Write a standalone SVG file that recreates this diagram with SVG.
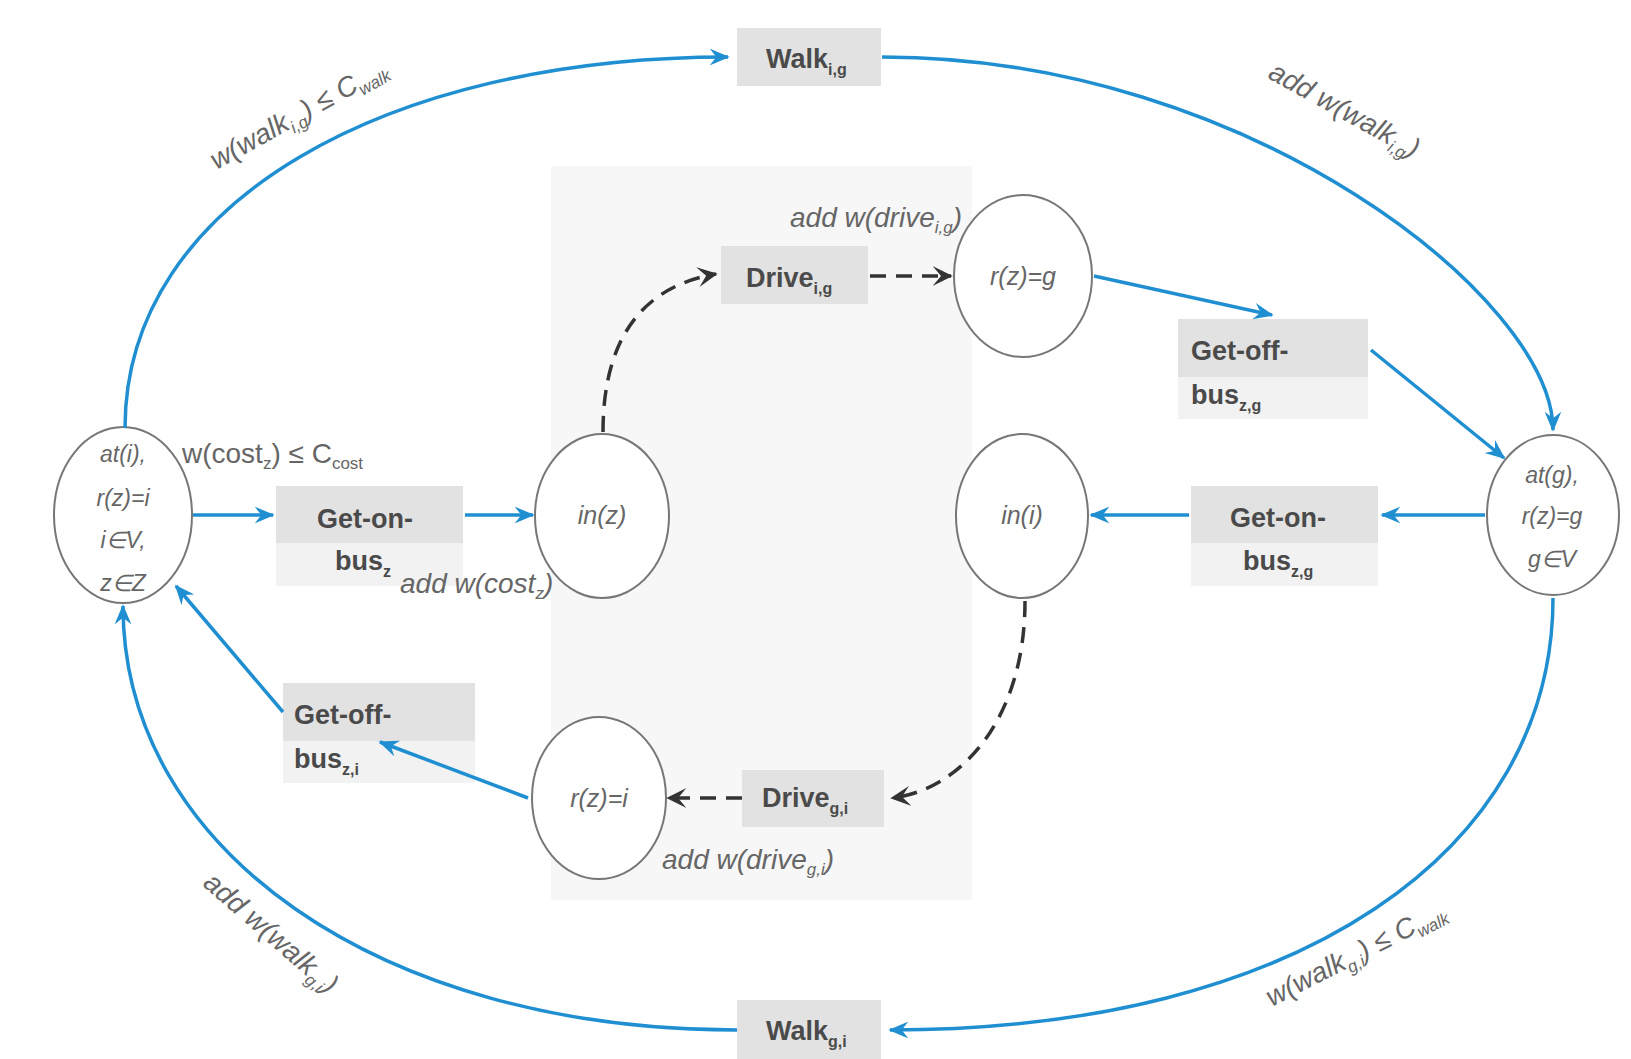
<svg xmlns="http://www.w3.org/2000/svg" width="1631" height="1059" viewBox="0 0 1631 1059">
<style>
.bg{fill:#ffffff}
.panel{fill:#f7f7f7}
.lite{fill:#f2f2f2}
.box{fill:#e2e2e2}
.node{fill:#ffffff;stroke:#777;stroke-width:2}
.nt{font-family:"Liberation Sans",Arial,sans-serif;font-size:25px;font-style:italic;fill:#666;text-anchor:middle}
.nt2{font-family:"Liberation Sans",Arial,sans-serif;font-size:23px;font-style:italic;fill:#666;text-anchor:middle}
.bt{font-family:"Liberation Sans",Arial,sans-serif;font-size:27px;font-weight:bold;fill:#4a4a4a}
.el{font-family:"Liberation Sans",Arial,sans-serif;font-size:28px;font-style:italic;fill:#666}
.blue{fill:none;stroke:#1f8fd2;stroke-width:3.5}
.dash{fill:none;stroke:#333;stroke-width:3.5;stroke-dasharray:16 10}
</style>
<defs>
<marker id="ab" viewBox="0 0 12 12" refX="11" refY="6" markerWidth="20" markerHeight="20" markerUnits="userSpaceOnUse" orient="auto">
<path d="M0,1 L12,6 L0,11 L4,6 z" fill="#1f8fd2"/>
</marker>
<marker id="ak" viewBox="0 0 12 12" refX="11" refY="6" markerWidth="20" markerHeight="20" markerUnits="userSpaceOnUse" orient="auto">
<path d="M0,0 L12,6 L0,12 L5,6 z" fill="#333"/>
</marker>
</defs>
<rect class="bg" x="0" y="0" width="1631" height="1059"/>
<rect class="panel" x="551" y="166" width="421" height="734"/>

<g id="node-at-i">
<ellipse class="node" cx="123" cy="515" rx="69" ry="88"/>
<text class="nt2" x="123" y="462">at(i),</text>
<text class="nt2" x="123" y="506">r(z)=i</text>
<text class="nt2" x="123" y="548">i∈V,</text>
<text class="nt2" x="123" y="591">z∈Z</text>
</g>
<g id="node-in-z">
<ellipse class="node" cx="602" cy="516" rx="67" ry="82"/>
<text class="nt" x="602" y="524">in(z)</text>
</g>
<g id="node-rz-g">
<ellipse class="node" cx="1023" cy="276" rx="69" ry="81"/>
<text class="nt" x="1023" y="285">r(z)=g</text>
</g>
<g id="node-in-i">
<ellipse class="node" cx="1022" cy="516" rx="66" ry="82"/>
<text class="nt" x="1022" y="524">in(i)</text>
</g>
<g id="node-at-g">
<ellipse class="node" cx="1553" cy="515" rx="66" ry="80"/>
<text class="nt2" x="1552" y="483">at(g),</text>
<text class="nt2" x="1552" y="524">r(z)=g</text>
<text class="nt2" x="1552" y="567">g∈V</text>
</g>
<g id="node-rz-i">
<ellipse class="node" cx="599" cy="798" rx="67" ry="81"/>
<text class="nt" x="599" y="807">r(z)=i</text>
</g>

<g id="walk-ig">
<rect class="box" x="737" y="28" width="144" height="58"/>
<text class="bt" x="766" y="68">Walk<tspan dy="7" font-size="16">i,g</tspan></text>
</g>
<g id="drive-ig">
<rect class="box" x="721" y="246" width="147" height="58"/>
<text class="bt" x="746" y="287">Drive<tspan dy="7" font-size="16">i,g</tspan></text>
</g>
<g id="getoff-zg">
<rect class="lite" x="1178" y="319" width="190" height="100"/>
<rect class="box" x="1178" y="319" width="190" height="58"/>
<text class="bt" x="1191" y="360">Get-off-</text>
<text class="bt" x="1191" y="404">bus<tspan dy="7" font-size="16">z,g</tspan></text>
</g>
<g id="geton-zg">
<rect class="lite" x="1191" y="486" width="187" height="100"/>
<rect class="box" x="1191" y="486" width="187" height="57"/>
<text class="bt" x="1230" y="527">Get-on-</text>
<text class="bt" x="1243" y="570">bus<tspan dy="7" font-size="16">z,g</tspan></text>
</g>
<g id="geton-z">
<rect class="lite" x="276" y="486" width="187" height="100"/>
<rect class="box" x="276" y="486" width="187" height="57"/>
<text class="bt" x="317" y="528">Get-on-</text>
<text class="bt" x="335" y="570">bus<tspan dy="7" font-size="16">z</tspan></text>
</g>
<g id="getoff-zi">
<rect class="lite" x="283" y="683" width="192" height="100"/>
<rect class="box" x="283" y="683" width="192" height="58"/>
<text class="bt" x="294" y="724">Get-off-</text>
<text class="bt" x="294" y="768">bus<tspan dy="7" font-size="16">z,i</tspan></text>
</g>
<g id="drive-gi">
<rect class="box" x="742" y="770" width="142" height="57"/>
<text class="bt" x="762" y="807">Drive<tspan dy="7" font-size="16">g,i</tspan></text>
</g>
<g id="walk-gi">
<rect class="box" x="737" y="1000" width="144" height="59"/>
<text class="bt" x="766" y="1040">Walk<tspan dy="7" font-size="16">g,i</tspan></text>
</g>

<g id="connectors">
<path class="blue" d="M125,428 C125,200 390,57 728,57" marker-end="url(#ab)"/>
<path class="blue" d="M882,57 C1250,57 1553,300 1553,430" marker-end="url(#ab)"/>
<path class="blue" d="M1553,598 C1553,850 1300,1030 890,1030" marker-end="url(#ab)"/>
<path class="blue" d="M737,1030 C380,1030 123,850 123,606" marker-end="url(#ab)"/>
<path class="blue" d="M193,515 L273,515" marker-end="url(#ab)"/>
<path class="blue" d="M465,515 L533,515" marker-end="url(#ab)"/>
<path class="dash" d="M603,432 C603,330 650,285 716,274" marker-end="url(#ak)"/>
<path class="dash" d="M870,276 L951,276" marker-end="url(#ak)"/>
<path class="blue" d="M1094,276 L1272,315" marker-end="url(#ab)"/>
<path class="blue" d="M1371,350 L1504,458" marker-end="url(#ab)"/>
<path class="blue" d="M1485,515 L1382,515" marker-end="url(#ab)"/>
<path class="blue" d="M1189,515 L1091,515" marker-end="url(#ab)"/>
<path class="dash" d="M1025,601 C1025,720 960,790 892,798" marker-end="url(#ak)"/>
<path class="dash" d="M742,798 L668,798" marker-end="url(#ak)"/>
<path class="blue" d="M528,798 L380,742" marker-end="url(#ab)"/>
<path class="blue" d="M283,712 L176,586" marker-end="url(#ab)"/>
</g>

<g id="labels">
<text class="el" x="182" y="463" style="font-style:normal">w(cost<tspan dy="6" font-size="17">z</tspan><tspan dy="-6">) ≤ C</tspan><tspan dy="6" font-size="17">cost</tspan></text>
<text class="el" x="400" y="593">add w(cost<tspan dy="6" font-size="17">z</tspan><tspan dy="-6">)</tspan></text>
<text class="el" x="790" y="227">add w(drive<tspan dy="6" font-size="17">i,g</tspan><tspan dy="-6">)</tspan></text>
<text class="el" x="662" y="869">add w(drive<tspan dy="6" font-size="17">g,i</tspan><tspan dy="-6">)</tspan></text>
<text class="el" text-anchor="middle" transform="translate(303,122) rotate(-29)">w(walk<tspan dy="6" font-size="17">i,g</tspan><tspan dy="-6">) ≤ C</tspan><tspan dy="6" font-size="17">walk</tspan></text>
<text class="el" text-anchor="middle" transform="translate(1340,118) rotate(29)">add w(walk<tspan dy="6" font-size="17">i,g</tspan><tspan dy="-6">)</tspan></text>
<text class="el" text-anchor="middle" transform="translate(265,940) rotate(41)">add w(walk<tspan dy="6" font-size="17">g,i</tspan><tspan dy="-6">)</tspan></text>
<text class="el" text-anchor="middle" transform="translate(1360,962) rotate(-27)">w(walk<tspan dy="6" font-size="17">g,i</tspan><tspan dy="-6">) ≤ C</tspan><tspan dy="6" font-size="17">walk</tspan></text>
</g>
</svg>
